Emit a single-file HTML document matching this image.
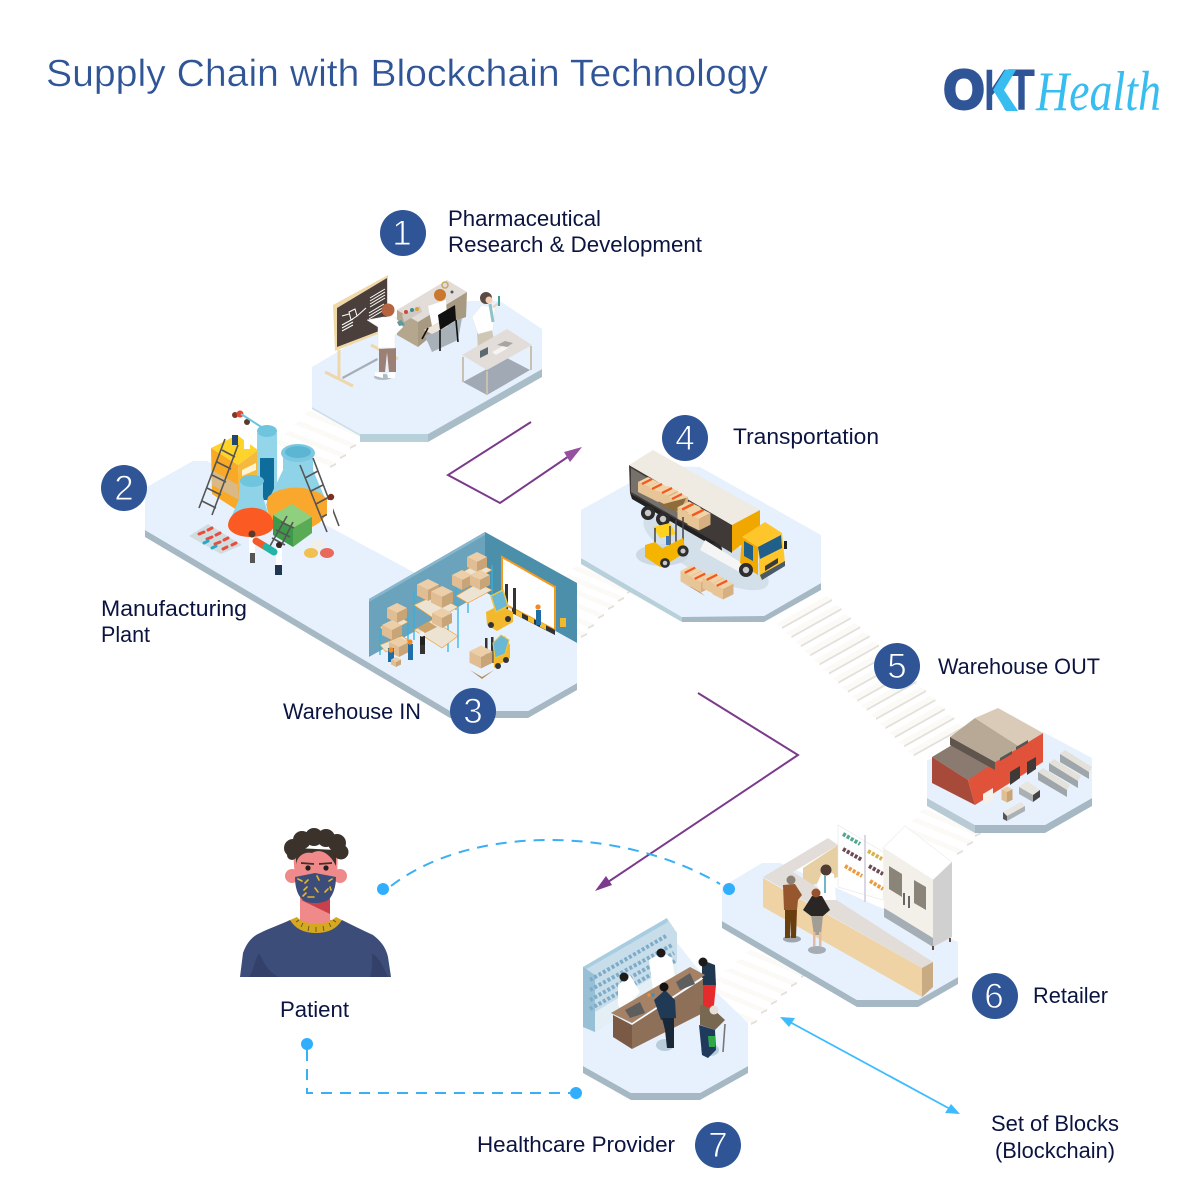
<!DOCTYPE html>
<html><head><meta charset="utf-8"><style>
html,body{margin:0;padding:0;background:#fff}
svg{display:block}
text{font-family:"Liberation Sans",sans-serif}
.l{font-size:22px;fill:#0b1440}
.n{font-size:35px;fill:#fff;text-anchor:middle;stroke:#2f5597;stroke-width:.9px}
.s{fill:#fbfaf7}.r{fill:#e3e0db}
</style></head><body>
<svg width="1200" height="1200" viewBox="0 0 1200 1200" xmlns="http://www.w3.org/2000/svg">
<defs>
<g id="box"><polygon points="-10,-5 0,-10 10,-5 0,0" fill="#eccfa8"/><polygon points="-10,-5 0,0 0,10 -10,5" fill="#e0bd92"/><polygon points="0,0 10,-5 10,5 0,10" fill="#c9a477"/></g>
<g id="sbox"><polygon points="-10,-5 0,-10 10,-5 0,0" fill="#f2d3a8"/><polygon points="-10,-5 0,0 0,10 -10,5" fill="#e8c597"/><polygon points="0,0 10,-5 10,5 0,10" fill="#d7b081"/><line x1="-6" y1="-3" x2="4" y2="-8" stroke="#f2591f" stroke-width="2.2"/></g>
<g id="st"><polygon points="0,0 50,-28 56,-25 6,3" class="s"/><polygon points="6,3 56,-25 56,-23 6,5" class="r"/></g>
<g id="st2"><polygon points="0,0 -56,-23 -50,-26 6,-3" class="s"/><polygon points="0,0 6,-3 6,-1 0,2" class="r"/></g>
<g id="wheel"><circle r="7" fill="#2e2d2d"/><circle r="3.2" fill="#c9c9c9"/></g>
</defs>
<rect width="1200" height="1200" fill="#fff"/>

<!-- stairs 1-2 -->
<use href="#st2" x="360" y="437"/><use href="#st2" x="350" y="447"/><use href="#st2" x="340" y="457"/><use href="#st2" x="330" y="466"/>
<!-- stairs 3-4 -->
<use href="#st2" x="627" y="592"/><use href="#st2" x="618" y="600"/><use href="#st2" x="608" y="608"/><use href="#st2" x="598" y="617"/><use href="#st2" x="588" y="627"/><use href="#st2" x="581" y="636"/>
<!-- stairs 4-5 -->
<use href="#st" x="776" y="624"/><use href="#st" x="785.4" y="633.1"/><use href="#st" x="794.8" y="642.2"/><use href="#st" x="804.2" y="651.3"/><use href="#st" x="813.6" y="660.4"/><use href="#st" x="823" y="669.5"/><use href="#st" x="832.4" y="678.6"/><use href="#st" x="841.8" y="687.7"/><use href="#st" x="851.2" y="696.8"/><use href="#st" x="860.6" y="705.9"/><use href="#st" x="870" y="715"/><use href="#st" x="879.4" y="724.1"/><use href="#st" x="888.8" y="733.2"/><use href="#st" x="898.2" y="742.3"/><use href="#st" x="907.6" y="751.4"/>
<!-- stairs 5-6 -->
<use href="#st2" x="975" y="835"/><use href="#st2" x="967" y="844"/><use href="#st2" x="957" y="853"/>
<!-- stairs 6-7 -->
<use href="#st2" x="801" y="976"/><use href="#st2" x="791" y="985"/><use href="#st2" x="781" y="994"/><use href="#st2" x="771" y="1003"/><use href="#st2" x="761" y="1012"/><use href="#st2" x="751" y="1023"/>

<!-- Platform 1 -->
<polygon points="360,434 428,434 428,442 360,442" fill="#b8d0da"/>
<polygon points="428,434 542,369 542,377 428,442" fill="#a9bdc8"/>
<polygon points="312,407 360,434 360,436 312,409" fill="#c9dfeb"/>
<polygon points="312,367 398,316 470,301 500,301 542,329 542,369 428,434 360,434 312,407" fill="#e6f1fd"/>

<!-- Platform 2/3 -->
<polygon points="145,530 450,708 450,718 145,537" fill="#a5b8c3"/>
<polygon points="450,711 528,711 528,718 450,718" fill="#a5b8c3"/>
<polygon points="528,711 577,683 577,690 528,718" fill="#a5b8c3"/>
<polygon points="145,488 193,461 207,461 577,660 577,683 528,711 450,711 145,530" fill="#e6f1fd"/>

<!-- Platform 4 -->
<polygon points="581,558 682,617 682,622 581,564" fill="#b8d0da"/>
<polygon points="682,616 764,616 764,622 682,622" fill="#a5b8c3"/>
<polygon points="764,616 821,583 821,590 764,622" fill="#a5b8c3"/>
<polygon points="581,510 660,466 700,467 821,535 821,583 764,616 682,617 581,558" fill="#e6f1fd"/>

<!-- Platform 5 -->
<polygon points="927,798 975,825 975,833 927,806" fill="#b8cbd5"/>
<polygon points="975,825 1045,825 1045,833 975,833" fill="#a5b8c3"/>
<polygon points="1045,825 1092,798 1092,806 1045,833" fill="#a5b8c3"/>
<polygon points="927,760 1043,732 1092,758 1092,798 1045,825 975,825 927,798" fill="#e6f1fd"/>

<!-- Platform 6 -->
<polygon points="722,921 857,1000 857,1007 722,928" fill="#a5b8c3"/>
<polygon points="857,1000 918,1000 918,1007 857,1007" fill="#a5b8c3"/>
<polygon points="918,1000 958,977 958,984 918,1007" fill="#a5b8c3"/>
<polygon points="722,887 762,863 780,863 958,942 958,977 918,1000 857,1000 722,921" fill="#e6f1fd"/>

<!-- Platform 7 -->
<polygon points="583,1066 631,1093 631,1100 583,1073" fill="#a5b8c3"/>
<polygon points="631,1093 700,1093 700,1100 631,1100" fill="#a5b8c3"/>
<polygon points="700,1093 748,1066 748,1073 700,1100" fill="#a5b8c3"/>
<polygon points="583,967 667,930 716,992 748,1023 748,1066 700,1093 631,1093 583,1066" fill="#e6f1fd"/>

<!-- Scene 1 -->
<polygon points="342,377 377,358 378,360 343,379" fill="#a5adb5"/>
<line x1="339" y1="350" x2="339" y2="378" stroke="#eed7aa" stroke-width="3"/>
<line x1="325" y1="372" x2="353" y2="386" stroke="#eed7aa" stroke-width="3"/>
<line x1="371" y1="345" x2="398" y2="359" stroke="#eed7aa" stroke-width="3"/>
<polygon points="333,305 388,275 388,330 335,351" fill="#f0d9a8"/>
<polygon points="337,308 387,278 387,328 337,347" fill="#4a3f3a"/>
<g stroke="#fff" stroke-width="1" fill="none"><polygon points="349,312 355,309 357,316 351,320"/><path d="M342,316L349,314M357,316L366,308M342,325L353,319M342,328L353,322M342,331L353,325"/><path d="M370,298L385,289M370,301L385,292M370,304L385,295M370,307L385,298M369,313L384,304M369,316L384,307M369,319L384,310"/></g>
<polygon points="397,310 447,280 467,292 418,322" fill="#e2ddd8"/>
<polygon points="397,310 418,322 418,347 397,335" fill="#b5a68e"/>
<polygon points="418,322 467,292 466,317 445,325 418,347" fill="#a89a82"/>
<polygon points="425,336 462,318 458,340 432,352" fill="#a8b0b8"/>
<circle cx="440" cy="295" r="6" fill="#c9782e"/>
<polygon points="428,306 446,300 447,318 432,326" fill="#fff"/>
<polygon points="424,330 440,322 448,326 432,334" fill="#eee5da"/>
<polygon points="438,315 455,305 456,320 440,330" fill="#111"/>
<g stroke="#111" stroke-width="1.6"><line x1="440" y1="330" x2="440" y2="351"/><line x1="456" y1="320" x2="458" y2="342"/><line x1="428" y1="328" x2="422" y2="339"/></g>
<ellipse cx="383" cy="377" rx="9" ry="3" fill="#b0bac4"/>
<polygon points="379,349 396,348 396,372 389,372 387,352 385,372 379,372" fill="#9c7f75"/>
<polygon points="375,372 383,373 383,378 375,376" fill="#fff"/><polygon points="387,373 395,372 395,378 388,378" fill="#fff"/>
<polygon points="367,320 383,317 395,317 403,327 395,335 395,348 378,348 378,327" fill="#fff" stroke="#e3e7ea" stroke-width=".5"/>
<circle cx="388" cy="310" r="6.5" fill="#b5643f"/>
<polygon points="397,322 401,320 405,325 399,326" fill="#5d9aa0"/>
<polygon points="402,315 420,306 422,312 404,322" fill="#cfc9c2"/>
<circle cx="406" cy="312" r="2" fill="#c94c3a"/><circle cx="412" cy="310" r="2" fill="#3a8c8c"/><circle cx="417" cy="309" r="2" fill="#d9a03a"/>
<circle cx="445" cy="285" r="3" fill="none" stroke="#c9a65a" stroke-width="1.5"/><circle cx="452" cy="292" r="1.5" fill="#555"/>
<polygon points="477,332 492,330 496,350 478,352" fill="#cfc7b4"/>
<polygon points="472,317 482,305 495,308 493,330 478,334" fill="#fff" stroke="#e3e7ea" stroke-width=".5"/>
<path d="M490,304l3,18" stroke="#8fc3c7" stroke-width="3"/>
<circle cx="486" cy="298" r="6" fill="#5b4a44"/><circle cx="489" cy="300" r="3.5" fill="#f3cfb8"/>
<line x1="493" y1="307" x2="499" y2="303" stroke="#f3cfb8" stroke-width="2"/><line x1="499" y1="296" x2="499" y2="306" stroke="#3fa0a0" stroke-width="2"/>
<polygon points="463,382 507,358 530,370 487,395" fill="#a0a9b4"/>
<g stroke="#c9c0b0" stroke-width="2"><line x1="463" y1="357" x2="463" y2="382"/><line x1="487" y1="371" x2="487" y2="395"/><line x1="531" y1="346" x2="531" y2="370"/></g>
<polygon points="462,355 507,329 532,345 487,370" fill="#e2ddd8"/>
<polygon points="480,351 488,347 488,354 480,358" fill="#5b6a6f"/><polygon points="492,352 505,345 508,348 496,355" fill="#f5f5f3"/>
<path d="M497,345l8-4 8,2-6,4z" fill="#a9a6a1"/>

<!-- Scene 2 -->
<polygon points="211,448 237,435 258,450 238,465" fill="#ffd42a"/>
<polygon points="211,448 238,465 240,512 212,494" fill="#f8a925"/>
<polygon points="212,470 238,485 239,500 212,485" fill="#d9ba87"/>
<polygon points="238,465 258,450 258,495 240,512" fill="#f5b93e"/>
<polygon points="242,470 256,463 256,470 242,476" fill="#fff3d0"/>
<polygon points="257,433 277,433 277,500 257,500" fill="#93d6e9"/>
<polygon points="260,458 274,458 274,500 260,500" fill="#0e6d9a"/>
<ellipse cx="267" cy="431" rx="10" ry="6" fill="#6fc4de"/>
<polygon points="283,450 313,450 313,470 330,510 310,528 284,528 266,505 283,470" fill="#8fd3e8"/>
<ellipse cx="298" cy="453" rx="17" ry="9" fill="#7bc8e0"/>
<ellipse cx="298" cy="452" rx="13" ry="6" fill="#5cb6d3"/>
<path d="M268,497C280,484 315,484 328,500C332,510 322,528 300,530C278,530 262,515 268,497Z" fill="#f9a82d"/>
<polygon points="240,482 263,482 263,497 270,520 230,520 240,497" fill="#8fd3e8"/>
<ellipse cx="252" cy="481" rx="12" ry="6" fill="#6fc4de"/>
<path d="M228,525C230,503 272,501 274,525C274,532 262,537 251,537C238,537 228,532 228,525Z" fill="#fb5a22"/>
<polygon points="273,515 292,504 312,517 293,528" fill="#8fd07e"/>
<polygon points="273,515 293,528 293,547 273,535" fill="#3e9a4a"/>
<polygon points="293,528 312,517 312,533 293,547" fill="#5aab55"/>
<g stroke="#555" stroke-width="1.6" fill="none">
<path d="M225,439L199,508M238,445L212,515M222,450L235,457M217,462L231,469M212,475L226,482M207,488L221,495M202,501L216,508"/>
<path d="M300,465L327,532M313,458L339,526M305,478L318,471M311,491L323,485M316,504L329,497M322,517L334,511"/>
<path d="M287,516L270,546M293,522L278,552M272,538L285,545M276,530L290,537M281,522L294,528"/>
</g>
<polygon points="189,536 208,524 242,545 221,554" fill="#d0dde0"/>
<g stroke-width="3" stroke-linecap="round"><path d="M199,534l5-2M208,530l4-2M207,539l5-2M216,535l4-2M215,544l5-2M224,540l4-2M223,549l4-2M232,545l4-2" stroke="#e84d3d"/><path d="M204,543l4-2M212,548l4-2" stroke="#28a9cb"/></g>
<ellipse cx="318" cy="544" rx="7" ry="5" fill="#f1efec"/><ellipse cx="311" cy="553" rx="7" ry="5" fill="#f0c050"/><ellipse cx="327" cy="553" rx="7" ry="5" fill="#e86a5a"/>
<polygon points="249,538 255,538 255,553 249,553" fill="#fff"/><rect x="250" y="553" width="5" height="10" fill="#555"/><circle cx="252" cy="534" r="3.5" fill="#5c3a2a"/>
<polygon points="276,548 282,548 282,565 276,565" fill="#fff"/><rect x="275" y="565" width="7" height="10" fill="#1f3850"/><circle cx="279" cy="545" r="3" fill="#33251f"/>
<line x1="256" y1="541" x2="266" y2="547" stroke="#f25a2a" stroke-width="7" stroke-linecap="round"/>
<line x1="266" y1="547" x2="274" y2="552" stroke="#25b5a8" stroke-width="7" stroke-linecap="round"/>
<rect x="232" y="417" width="6" height="20" fill="#fff"/><rect x="232" y="435" width="6" height="10" fill="#1f4870"/><circle cx="235" cy="415" r="3" fill="#7a3a2a"/>
<rect x="244" y="425" width="6" height="24" fill="#fff"/><circle cx="247" cy="422" r="3" fill="#5c3a2a"/>
<circle cx="240" cy="414" r="3.5" fill="#e8452c"/><line x1="241" y1="414" x2="266" y2="430" stroke="#6fc4de" stroke-width="2"/>
<rect x="327" y="500" width="6" height="24" fill="#fff"/><circle cx="331" cy="497" r="3.2" fill="#7a3020"/>

<!-- Warehouse interior -->
<polygon points="369,599 485,532 485,593 369,657" fill="#6ba3bd"/>
<polygon points="369,599 485,532 485,535 369,602" fill="#88b6cc"/>
<polygon points="485,532 577,583 577,643 485,592" fill="#4b8fab"/>
<polygon points="369,657 485,592 577,643 577,683 528,711 450,700" fill="#e6f1fd"/>
<polygon points="502,557 555,587 555,630 502,603" fill="#fff" stroke="#f59a1d" stroke-width="2"/>
<polygon points="512,608 555,630 555,635 512,613" fill="#333"/>
<polygon points="516,610 522,613 522,618 516,615" fill="#f5c030"/><polygon points="528,616 534,619 534,624 528,621" fill="#f5c030"/><polygon points="540,622 546,625 546,630 540,627" fill="#f5c030"/>
<rect x="560" y="618" width="6" height="9" fill="#f2b92c"/>
<!-- shelves -->
<g stroke="#32b3dc" stroke-width="1.3">
<line x1="456" y1="576" x2="456" y2="610"/><line x1="492" y1="565" x2="492" y2="600"/><line x1="468" y1="613" x2="468" y2="600"/>
<line x1="414" y1="592" x2="414" y2="640"/><line x1="448" y1="608" x2="448" y2="652"/><line x1="458" y1="603" x2="458" y2="648"/>
<line x1="380" y1="625" x2="380" y2="655"/><line x1="408" y1="615" x2="408" y2="650"/>
</g>
<polygon points="456,576 478,563 492,570 468,583" fill="#ede3d3" stroke="#f59a1d" stroke-width=".6"/>
<polygon points="456,596 478,583 492,590 468,603" fill="#ede3d3" stroke="#f59a1d" stroke-width=".6"/>
<polygon points="414,605 436,595 458,607 436,620" fill="#ede3d3" stroke="#f59a1d" stroke-width=".6"/>
<polygon points="414,630 432,620 458,636 442,648" fill="#ede3d3" stroke="#f59a1d" stroke-width=".6"/>
<polygon points="380,627 402,618 408,622 386,634" fill="#ede3d3" stroke="#f59a1d" stroke-width=".6"/>
<polygon points="380,645 402,636 408,640 386,652" fill="#ede3d3" stroke="#f59a1d" stroke-width=".6"/>
<use href="#box" x="477" y="562"/><use href="#box" x="462" y="580"/><use href="#box" x="480" y="580"/>
<use href="#box" transform="translate(428,590) scale(1.1)"/><use href="#box" transform="translate(442,597) scale(1.1)"/>
<use href="#box" x="442" y="618"/>
<use href="#box" x="397" y="613"/><use href="#box" x="392" y="630"/><use href="#box" x="399" y="647"/>
<polygon points="417,628 429,622 437,627 425,633" fill="#c9a26c"/>
<rect x="408" y="644" width="5" height="16" fill="#1f6ea8"/><circle cx="410" cy="642" r="2.6" fill="#f28a1e"/>
<rect x="420" y="636" width="5" height="11" fill="#222"/><rect x="420" y="645" width="5" height="9" fill="#333"/><circle cx="422" cy="634" r="2.6" fill="#f0f0f0"/>
<rect x="388" y="648" width="6" height="14" fill="#1f6ea8"/><circle cx="391" cy="650" r="2.6" fill="#f28a1e"/>
<use href="#box" transform="translate(396,662) scale(.5)"/>
<rect x="536" y="610" width="5" height="15" fill="#1f6ea8"/><circle cx="538" cy="607" r="2.6" fill="#f28a1e"/>
<!-- forklifts -->
<rect x="505" y="584" width="3" height="28" fill="#333"/><rect x="513" y="588" width="3" height="26" fill="#333"/>
<polygon points="486,612 500,605 513,612 513,622 497,631 487,625" fill="#f2b92c"/>
<polygon points="491,596 503,590 508,606 496,612" fill="#6ab7d6" stroke="#f2c63a" stroke-width="1.5"/>
<circle cx="491" cy="625" r="3" fill="#333"/><circle cx="508" cy="619" r="3" fill="#333"/>
<rect x="485" y="638" width="2.5" height="26" fill="#333"/><rect x="491" y="637" width="2.5" height="26" fill="#333"/>
<polygon points="493,644 505,636 510,645 510,658 494,668" fill="#f2b92c"/><polygon points="493,643 501,635 509,640 505,654 495,658" fill="#6ab7d6" stroke="#f2c63a"/>
<use href="#box" transform="translate(481,657) scale(1.15)"/><polygon points="470,670 482,677 494,670 482,679" fill="#b78f55"/>
<circle cx="498" cy="666" r="3" fill="#333"/><circle cx="506" cy="660" r="3" fill="#333"/>

<!-- Scene 4 truck -->
<ellipse cx="706" cy="552" rx="70" ry="22" fill="#d3dfe9" transform="rotate(28 706 552)"/>
<polygon points="629,465 732,525 732,553 630,493" fill="#3f3a38"/>
<polygon points="631,468 680,497 680,520 631,492" fill="#77716c"/>
<polygon points="629,465 653,450 760,510 732,525" fill="#efeae2"/>
<polygon points="732,525 760,510 760,530 732,552" fill="#f0a800"/>
<polygon points="630,493 720,545 720,550 632,499" fill="#222"/>
<use href="#wheel" x="648" y="513"/><use href="#wheel" x="663" y="519"/><use href="#wheel" x="715" y="550"/>
<polygon points="700,550 745,575 745,565 705,540" fill="#f5f5f5"/>
<polygon points="742,537 765,522 782,533 758,547" fill="#ffc62b"/>
<polygon points="742,537 758,547 758,575 740,563" fill="#f2a900"/>
<polygon points="744,541 753,546 753,561 744,556" fill="#1f5f8a"/>
<polygon points="758,547 782,533 785,563 760,578" fill="#ffc62b"/>
<polygon points="758,547 781,535 782,548 760,559" fill="#1f5f8a"/>
<polygon points="765,566 778,558 778,563 765,571" fill="#3a3a3a"/>
<polygon points="760,575 785,561 785,566 762,580" fill="#4a5a66"/>
<rect x="784" y="541" width="3" height="8" fill="#222"/>
<use href="#wheel" x="746" y="570"/>
<use href="#sbox" transform="translate(648,487)"/><use href="#sbox" transform="translate(658,492)"/><use href="#sbox" transform="translate(668,496)"/><use href="#sbox" transform="translate(678,502)"/>
<polygon points="660,505 686,498 680,512 672,510" fill="#8d6d3a"/>
<use href="#sbox" transform="translate(689,513) scale(1.15)"/><use href="#sbox" transform="translate(699,519) scale(1.15)"/>
<ellipse cx="662" cy="555" rx="26" ry="11" fill="#ccd9e4"/>
<polygon points="653,527 670,523 676,534 660,538" fill="#ffd21e"/>
<g stroke="#444" stroke-width="1.5"><line x1="655" y1="528" x2="655" y2="546"/><line x1="670" y1="526" x2="670" y2="545"/><line x1="676" y1="520" x2="676" y2="543"/><line x1="683" y1="517" x2="683" y2="543"/></g>
<polygon points="645,545 655,542 668,553 668,565 660,567 645,557" fill="#f5b400"/>
<polygon points="663,548 683,538 686,552 667,564" fill="#f5b400"/>
<rect x="666" y="536" width="4" height="9" fill="#3f76b1"/>
<use href="#wheel" transform="translate(665,563) scale(.7)"/><use href="#wheel" transform="translate(683,551) scale(.8)"/>
<use href="#sbox" transform="translate(691,576) scale(1.05)"/><use href="#sbox" transform="translate(701,582) scale(1.05)"/><use href="#sbox" transform="translate(713,583) scale(1.05)"/><use href="#sbox" transform="translate(723,589) scale(1.05)"/>
<polygon points="680,581 695,590 705,596 700,592" fill="#b78f55"/>

<!-- Scene 5 building -->
<polygon points="932,757 957,742 993,767 968,780" fill="#8a7a70"/>
<polygon points="932,757 968,780 975,805 932,783" fill="#a84a3a"/>
<polygon points="995,762 1043,733 1043,762 975,805 968,780" fill="#e0523a"/>
<polygon points="950,737 975,718 1020,747 995,762" fill="#b8a996"/>
<polygon points="975,718 998,708 1043,733 1020,747" fill="#d9cbb7"/>
<polygon points="950,737 995,762 995,770 950,745" fill="#5f554d"/>
<polygon points="1010,772 1020,766 1020,778 1010,785" fill="#3f3a38"/><polygon points="1027,762 1036,757 1036,769 1027,775" fill="#3f3a38"/>
<polygon points="983,794 993,788 993,800 983,806" fill="#f5f0ea"/>
<polygon points="1000,758 1012,751 1012,754 1000,761" fill="#555"/><polygon points="1016,747 1028,740 1028,743 1016,750" fill="#555"/>
<use href="#box" transform="translate(1007,797) scale(.55)"/><use href="#box" transform="translate(1007,792) scale(.55)"/>
<polygon points="1019,787 1027,781 1040,790 1033,795" fill="#e9e6e0"/><polygon points="1019,787 1033,795 1033,802 1019,794" fill="#aab0b4"/><polygon points="1033,795 1040,790 1040,797 1033,802" fill="#444"/>
<polygon points="1003,812 1021,802 1025,806 1007,816" fill="#e9e6e0"/><polygon points="1003,812 1007,816 1007,821 1003,819" fill="#555"/><polygon points="1007,816 1025,806 1025,811 1007,821" fill="#aab0b4"/>
<polygon points="1038,772 1043,768 1070,785 1067,790" fill="#e3e1da"/><polygon points="1038,772 1067,790 1067,797 1038,780" fill="#9ea6aa"/>
<polygon points="1049,763 1054,759 1081,776 1078,781" fill="#e3e1da"/><polygon points="1049,763 1078,781 1078,788 1049,771" fill="#9ea6aa"/>
<polygon points="1060,754 1065,750 1092,767 1089,772" fill="#e3e1da"/><polygon points="1060,754 1089,772 1089,779 1060,762" fill="#9ea6aa"/>

<!-- Scene 6 -->
<polygon points="803,868 838,845 838,877 803,888" fill="#e7cfa4"/>
<polygon points="838,825 885,853 883,900 838,887" fill="#fff" stroke="#e5e5e5" stroke-width=".6"/>
<g fill="none" stroke-width="4" stroke-dasharray="3 1.5">
<line x1="843" y1="834" x2="860" y2="844" stroke="#4fa88f"/><line x1="843" y1="849" x2="862" y2="860" stroke="#6d4a52"/><line x1="845" y1="866" x2="862" y2="876" stroke="#ec9a3e"/>
<line x1="868" y1="851" x2="882" y2="859" stroke="#d6b24a"/><line x1="869" y1="866" x2="883" y2="874" stroke="#6d4a52"/><line x1="870" y1="881" x2="883" y2="889" stroke="#ec9a3e"/></g>
<line x1="865" y1="835" x2="865" y2="902" stroke="#ccd" stroke-width="1.5"/>
<polygon points="883,848 905,826 952,862 933,880" fill="#fff" stroke="#f2f2f2"/>
<polygon points="883,848 933,880 933,938 884,908" fill="#f3efe9"/>
<polygon points="933,880 952,862 952,937 933,947" fill="#d0d0d0"/>
<polygon points="884,908 933,938 933,947 884,917" fill="#a5adb5"/>
<polygon points="889,866 902,874 902,897 889,889" fill="#8b8479"/>
<polygon points="914,880 926,887 926,910 914,903" fill="#8b8479"/>
<line x1="904" y1="893" x2="904" y2="905" stroke="#444" stroke-width="1.6"/><line x1="909" y1="896" x2="909" y2="908" stroke="#444" stroke-width="1.6"/>
<line x1="933" y1="946" x2="933" y2="950" stroke="#6a5040" stroke-width="2"/><line x1="950" y1="938" x2="950" y2="942" stroke="#6a5040" stroke-width="2"/>
<polygon points="763,877 828,838 838,845 793,872 933,962 922,968" fill="#e2ddd8"/>
<polygon points="763,878 922,968 922,997 763,907" fill="#f0d3a5"/>
<polygon points="922,968 933,962 933,987 922,997" fill="#c8ab82"/>
<polygon points="817,884 823,870 834,874 836,900 822,900" fill="#fff"/>
<circle cx="826" cy="870" r="5.5" fill="#4e3c35"/><rect x="824" y="875" width="2" height="18" fill="#6fb8c9"/>
<ellipse cx="792" cy="939" rx="9" ry="3.5" fill="#9ea5ad"/><ellipse cx="817" cy="950" rx="9" ry="4" fill="#a5acb3"/>
<polygon points="785,909 797,909 796,938 791,938 790,920 790,938 785,938" fill="#6a3f0e"/>
<polygon points="783,885 795,884 802,895 798,900 797,910 784,910" fill="#96572f"/>
<circle cx="791" cy="880" r="4.5" fill="#8a8075"/>
<polygon points="811,915 823,915 821,935 814,935" fill="#a39e95"/>
<rect x="813" y="932" width="2.5" height="14" fill="#e5ba9e"/><rect x="819" y="932" width="2.5" height="14" fill="#e5ba9e"/>
<polygon points="803,910 812,896 822,896 830,910 823,916 811,916" fill="#2a2623"/>
<circle cx="816" cy="893" r="4.5" fill="#99502c"/>

<!-- Scene 7 -->
<polygon points="583,967 667,918 677,933 677,980 595,1032 583,1027" fill="#c7dde9"/>
<polygon points="583,967 667,918 668,922 583,971" fill="#a8cde0"/>
<polygon points="595,1012 677,962 677,980 595,1032" fill="#e3eff5"/>
<polygon points="583,967 595,975 595,1032 583,1027" fill="#97bfd6"/>
<g fill="none" stroke="#7eabc8" stroke-width="4" stroke-dasharray="3 2">
<line x1="590" y1="980" x2="666" y2="936"/><line x1="590" y1="990" x2="672" y2="945"/><line x1="590" y1="1000" x2="674" y2="953"/><line x1="590" y1="1009" x2="675" y2="961"/></g>
<polygon points="649,960 662,952 672,958 677,990 653,990" fill="#fff"/><circle cx="661" cy="953" r="4.5" fill="#1d1a1a"/>
<polygon points="618,985 630,975 640,992 622,1012 618,1005" fill="#fff"/><circle cx="624" cy="977" r="4.5" fill="#1d1a1a"/>
<polygon points="702,960 715,965 716,985 702,988" fill="#20384f"/><circle cx="703" cy="962" r="4.5" fill="#1d1a1a"/>
<polygon points="700,985 716,985 714,1005 706,1018 700,1015" fill="#e52b2b"/>
<polygon points="611,1013 690,967 705,975 632,1023" fill="#a58266"/>
<polygon points="613,1015 632,1025 632,1049 613,1037" fill="#7a5a45"/>
<polygon points="632,1025 703,979 703,1013 632,1049" fill="#8e6f58"/>
<line x1="632" y1="1024" x2="703" y2="978" stroke="#fff" stroke-width="1"/>
<polygon points="625,1010 640,1002 645,1013 630,1018" fill="#5e5e5e"/><polygon points="676,982 690,973 695,984 680,990" fill="#5e5e5e"/>
<circle cx="649" cy="995" r="1.7" fill="#f28a2e"/><circle cx="653" cy="995" r="1.7" fill="#3a8fc2"/>
<ellipse cx="665" cy="1045" rx="9" ry="6" fill="#b9ccda"/><ellipse cx="710" cy="1050" rx="9" ry="6" fill="#b9ccda"/>
<polygon points="654,1000 665,990 675,1000 676,1018 661,1020" fill="#203a56"/>
<circle cx="664" cy="987" r="4.5" fill="#141212"/>
<polygon points="662,1018 674,1018 674,1048 667,1048 665,1030" fill="#182838"/>
<polygon points="700,1005 712,1008 725,1020 715,1030 700,1025" fill="#786851"/>
<circle cx="714" cy="1010" r="4.5" fill="#e8e0d8"/>
<polygon points="699,1025 715,1030 716,1050 708,1058 702,1055" fill="#1f3a5c"/>
<polygon points="708,1036 715,1036 715,1047 709,1047" fill="#2fa84a"/>
<line x1="725" y1="1024" x2="723" y2="1052" stroke="#777" stroke-width="1.6"/>

<!-- Patient -->
<path d="M240,977L243,953C247,942 253,936 260,933C270,928 282,924 290,920L342,920C352,925 362,930 373,935C381,941 386,948 388,957L391,977Z" fill="#3d4d7a"/>
<path d="M249,977C254,970 256,955 259,954C262,955 264,970 279,977ZM370,977C373,970 372,955 372,954C378,955 384,968 388,977Z" fill="#33406a"/>
<path d="M300,895L330,895L330,920L342,920C330,933 300,933 290,920L300,920Z" fill="#f08a8a"/>
<path d="M301,900L330,895L330,914Z" fill="#c9404a"/>
<path d="M290,920L297,917C305,926 326,926 336,917L342,920C336,930 326,933 316,933C306,933 296,930 290,920Z" fill="#d4a81f"/>
<g stroke="#5a4a20" stroke-width=".8"><path d="M296,922l3-2M301,927l2-4M308,931l1-5M316,932l0-5M324,931l-1-5M331,927l-2-4M336,922l-3-2"/></g>
<circle cx="292" cy="876" r="7" fill="#f08a8a"/><circle cx="340" cy="876" r="7" fill="#f08a8a"/>
<path d="M293,850L338,850L337,880L315,903L295,880Z" fill="#f08a8a"/>
<g fill="#3b322c"><circle cx="293" cy="848" r="9"/><circle cx="302" cy="840" r="9"/><circle cx="314" cy="837" r="9"/><circle cx="326" cy="838" r="9"/><circle cx="337" cy="843" r="9"/><circle cx="341" cy="852" r="7.5"/><circle cx="292" cy="855" r="5"/></g>
<path d="M296,866C296,858 303,851 312,853C320,848 330,853 336,866L336,850L296,848Z" fill="#3b322c"/>
<circle cx="308" cy="868" r="2.6" fill="#241e1c"/><circle cx="326" cy="868" r="2.6" fill="#241e1c"/>
<path d="M301,863l13,1M319,864l13-1" stroke="#3b322c" stroke-width="1.8"/>
<path d="M295,877L315,873L336,877C336,890 331,898 328,900C322,904 308,904 303,900C299,897 295,890 295,877Z" fill="#3d4d7a"/>
<g stroke="#e5b52a" stroke-width="1.6" stroke-linecap="round"><path d="M298,879l4,2M308,880l-3,3M317,876l2,4M329,881l3-2M304,890l3-3M315,888l3,4M325,892l3-3M330,887l1,3M308,897l6,0M303,896l3,-3"/></g>

<!-- Connectors -->
<polyline points="531,422 448,475 500,503 575,452" fill="none" stroke="#7b3a8c" stroke-width="2"/>
<polygon points="582,447 564,452 570,462" fill="#96509f"/>
<polyline points="698,693 798,755 605,884" fill="none" stroke="#7b3a8c" stroke-width="2"/>
<polygon points="595,891 612,885 606,876" fill="#7b3a8c"/>
<path d="M391,886C470,825 620,825 720,884" fill="none" stroke="#39b0f5" stroke-width="2" stroke-dasharray="11 8"/>
<circle cx="383" cy="889" r="6" fill="#32aeff"/><circle cx="729" cy="889" r="6" fill="#32aeff"/>
<polyline points="307,1050 307,1093 570,1093" fill="none" stroke="#39b0f5" stroke-width="2" stroke-dasharray="11 8"/>
<circle cx="307" cy="1044" r="6" fill="#32aeff"/><circle cx="576" cy="1093" r="6" fill="#32aeff"/>
<line x1="788" y1="1021" x2="952" y2="1110" stroke="#3cbcff" stroke-width="1.8"/>
<polygon points="780,1017 795,1018 789,1027" fill="#3cbcff"/>
<polygon points="960,1114 945,1113 951,1104" fill="#3cbcff"/>

<!-- Number circles -->
<g fill="#2f5597"><circle cx="403" cy="233" r="23"/><circle cx="124" cy="488" r="23"/><circle cx="473" cy="711" r="23"/><circle cx="685" cy="438" r="23"/><circle cx="897" cy="666" r="23"/><circle cx="995" cy="996" r="23"/><circle cx="718" cy="1145" r="23"/></g>
<text x="402" y="245" class="n">1</text><text x="124" y="500" class="n">2</text><text x="473" y="723" class="n">3</text><text x="685" y="450" class="n">4</text><text x="897" y="678" class="n">5</text><text x="994" y="1008" class="n">6</text><text x="718" y="1157" class="n">7</text>

<!-- Labels -->
<text x="46" y="86" font-size="38" fill="#2f5597" stroke="#fff" stroke-width=".35" textLength="722" lengthAdjust="spacingAndGlyphs">Supply Chain with Blockchain Technology</text>
<text x="448" y="226" class="l" textLength="153" lengthAdjust="spacingAndGlyphs">Pharmaceutical</text>
<text x="448" y="252" class="l" textLength="254" lengthAdjust="spacingAndGlyphs">Research &amp; Development</text>
<text x="733" y="444" class="l" textLength="146" lengthAdjust="spacingAndGlyphs">Transportation</text>
<text x="938" y="674" class="l" textLength="162" lengthAdjust="spacingAndGlyphs">Warehouse OUT</text>
<text x="1033" y="1003" class="l" textLength="75" lengthAdjust="spacingAndGlyphs">Retailer</text>
<text x="477" y="1152" class="l" textLength="198" lengthAdjust="spacingAndGlyphs">Healthcare Provider</text>
<text x="280" y="1017" class="l" textLength="69" lengthAdjust="spacingAndGlyphs">Patient</text>
<text x="991" y="1131" class="l" textLength="128" lengthAdjust="spacingAndGlyphs">Set of Blocks</text>
<text x="995" y="1158" class="l" textLength="120" lengthAdjust="spacingAndGlyphs">(Blockchain)</text>
<text x="101" y="616" class="l" textLength="146" lengthAdjust="spacingAndGlyphs">Manufacturing</text>
<text x="101" y="642" class="l" textLength="49" lengthAdjust="spacingAndGlyphs">Plant</text>
<text x="283" y="719" class="l" textLength="138" lengthAdjust="spacingAndGlyphs">Warehouse IN</text>

<!-- Logo -->
<text x="944" y="108" font-size="54" font-weight="700" fill="#2f5597" stroke="#2f5597" stroke-width="4" textLength="40" lengthAdjust="spacingAndGlyphs">O</text>
<text x="984" y="110" font-size="58" font-weight="700" fill="#2f5597" textLength="28" lengthAdjust="spacingAndGlyphs">K</text>
<text x="1008" y="110" font-size="58" font-weight="700" fill="#2f5597" textLength="27" lengthAdjust="spacingAndGlyphs">T</text>
<polygon points="993,90 1005,70 1016,70 1004,90 1018,111 1006,111" fill="#38bdf0"/>
<text x="1036" y="110" font-size="56" font-style="italic" fill="#38bdf0" style="font-family:'Liberation Serif',serif" textLength="125" lengthAdjust="spacingAndGlyphs">Health</text>
</svg>
</body></html>
